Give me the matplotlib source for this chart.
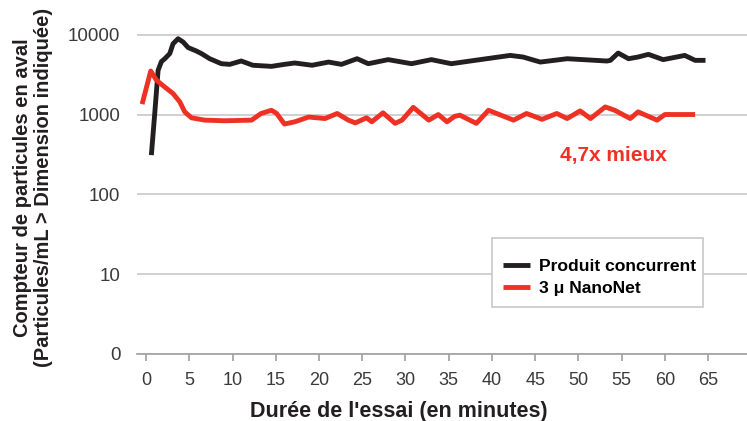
import matplotlib
matplotlib.use("Agg")
import matplotlib.pyplot as plt
from matplotlib import font_manager
from matplotlib.patches import Rectangle

# pick a narrow sans if one is installed
names = set(f.name for f in font_manager.fontManager.ttflist)
narrow = "Liberation Sans Narrow" if "Liberation Sans Narrow" in names else "Liberation Sans"
plt.rcParams['font.family'] = [narrow, 'DejaVu Sans']

### data ###
black_x = [0.61, 1.0, 1.39, 1.77, 2.16, 2.74, 3.12, 3.7, 4.28, 4.86, 5.82, 6.4, 7.36, 8.71,
           9.68, 11.0, 12.35, 14.5, 16.0, 17.2, 19.2, 21.1, 22.6, 24.4, 25.7, 28.0,
           30.7, 33.0, 35.3, 37.5, 42.1, 43.6, 45.6, 48.7, 53.3, 53.7, 54.6, 55.8,
           56.9, 58.1, 59.8, 61.0, 62.3, 63.5, 64.7]
black_y = [310, 1025, 3580, 4600, 5000, 5800, 7700, 8900, 8100, 6900, 6240, 5800, 5000, 4330,
           4250, 4680, 4140, 4010, 4250, 4420, 4140, 4540, 4250, 5000, 4330, 4870,
           4330, 4870, 4330, 4680, 5500, 5250, 4540, 5000, 4680, 4770, 5890, 5000,
           5250, 5670, 4870, 5160, 5500, 4770, 4770]

red_x = [-0.46, 0.54, 1.2, 2.16, 3.12, 3.9, 4.47, 5.24, 6.79, 9.1, 12.2, 13.3, 14.5, 15.1,
         16.0, 17.2, 18.8, 20.7, 22.1, 23.4, 24.2, 25.5, 26.1, 27.4, 28.8, 29.6, 30.9,
         32.7, 33.8, 34.8, 35.7, 36.3, 38.2, 39.6, 42.5, 44.0, 45.8, 47.5, 48.7, 50.2,
         51.4, 53.1, 54.2, 56.0, 56.9, 59.1, 60.0, 63.5]
red_y = [1350, 3510, 2690, 2210, 1830, 1440, 1080, 910, 850, 835, 850, 1030, 1130, 1030,
         760, 810, 930, 890, 1030, 850, 785, 910, 810, 1050, 775, 850, 1230,
         850, 1000, 810, 950, 980, 775, 1130, 850, 1030, 870, 1030, 890, 1110,
         890, 1245, 1130, 890, 1080, 850, 1000, 1000]

x_ticks = list(range(0, 70, 5))
y_ticks = [1, 10, 100, 1000, 10000]
y_tick_labels = ["0", "10", "100", "1000", "10000"]

my_dpi = 100
fig = plt.figure(figsize=(747/my_dpi, 421/my_dpi), dpi=my_dpi)
ax = fig.add_axes([137/747, 67/421, 610/747, 320/421])

ax.plot(black_x, black_y, color="#231f20", lw=3.5, solid_joinstyle="round",
        solid_capstyle="butt", label="Produit concurrent")
ax.plot(red_x, red_y, color="#ee3124", lw=3.5, solid_joinstyle="round",
        solid_capstyle="butt", label="3 \u03bc NanoNet")

ax.set_yscale("log")
ax.set_ylim(1, 10000 * 1.02)
ax.set_xlim(-1.05, 69.5)
ax.set_yticks(y_ticks)
ax.set_yticklabels(y_tick_labels)
ax.minorticks_off()
ax.set_xticks(x_ticks)

ax.grid(axis="y", color="#c8c8cc", lw=1.2)
ax.set_axisbelow(True)
for s in ["left", "right", "top"]:
    ax.spines[s].set_visible(False)
ax.spines["bottom"].set_color("#a0a0a0")
ax.spines["bottom"].set_linewidth(1.2)
ax.tick_params(axis="y", length=0, pad=12, labelsize=13.5, labelcolor="#3a3a3a")
ax.tick_params(axis="x", length=5, width=1.2, color="#a0a0a0", pad=8,
               labelsize=13, labelcolor="#3a3a3a")

ax.set_ylabel("Compteur de particules en aval\n(Particules/mL > Dimension indiqu\u00e9e)",
              fontsize=14.5, fontweight="bold", color="#231f20", linespacing=1.1)
ax.yaxis.set_label_coords(-0.138, 0.52)
ax.set_xlabel("Dur\u00e9e de l'essai (en minutes)", fontsize=15.5, fontweight="bold",
              color="#231f20")
ax.xaxis.set_label_coords(0.43, -0.148)

ax.text(47.9, 310, "4,7x mieux", color="#ee3124", fontsize=15, fontweight="bold",
        va="center", ha="left")

# legend box drawn by hand: tall padding top/bottom, narrow at the sides
ax.add_patch(Rectangle((0.582, 0.147), 0.346, 0.216, transform=ax.transAxes,
                       facecolor="white", edgecolor="#c8c8cc", lw=1.2,
                       clip_on=False, zorder=4))
leg = ax.legend(loc="center left", bbox_to_anchor=(0.6, 0.24), frameon=False,
                handlelength=1.55, handletextpad=0.5,
                prop={"weight": "bold", "size": 12.6},
                borderpad=0, labelspacing=0.4, borderaxespad=0)
leg.set_zorder(5)

plt.savefig("out.png", dpi=my_dpi)
